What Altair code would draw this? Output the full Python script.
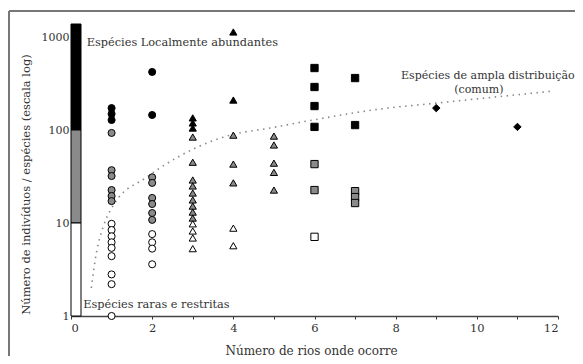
import altair as alt
import pandas as pd

# ---- data ----
rios_1 = [172, 149, 128, 93, 37, 32, 22.6, 19.5, 17.2, 9.8, 8.4, 7.2, 6.2, 5.4, 4.4, 2.8, 2.2, 1.0]
rios_2 = [421, 145, 31, 27, 18.6, 16, 12.8, 10.8, 7.6, 6.2, 5.3, 3.6]
rios_3 = [135, 119, 105, 84, 45, 29, 25, 21, 17.7, 15.2, 13.1, 11.3, 9.8, 8.2, 6.9, 5.3]
rios_4 = [1132, 210, 88, 43, 27, 8.8, 5.7]
rios_5 = [86, 69, 44, 35, 22.6]
rios_6 = [464, 290, 181, 108, 43, 22.6, 7.1]
rios_7 = [362, 113, 22, 19, 16.4]
rios_9 = [172]
rios_11 = [108]

curva_x = [0.5, 0.63, 0.79, 1.08, 1.86, 2.19, 3.1, 3.92, 4.9, 5.96, 7.61, 8.97, 11.87]
curva_y = [2.0, 4.9, 9.0, 16.4, 31, 39, 65, 88, 105, 128, 168, 194, 262]

barra_ini = [100, 10, 1]
barra_fim = [1380, 100, 10]
barra_cat = ["abundante", "intermediaria", "rara"]

notas_esq = ["Espécies Localmente abundantes", "Espécies raras e restritas"]
notas_esq_x = [0.39, 0.3]
notas_esq_y = [860, 1.31]
notas_cen = ["Espécies de ampla distribuição", "(comum)"]
notas_cen_x = [10.27, 10.05]
notas_cen_y = [380, 268]

x_ticks = list(range(13))
y_ticks = [1, 10, 100, 1000]

# ---- build tables ----
cols = {1: rios_1, 2: rios_2, 3: rios_3, 4: rios_4, 5: rios_5,
        6: rios_6, 7: rios_7, 9: rios_9, 11: rios_11}
rows = []
for r, vals in cols.items():
    if r <= 2:
        g = "circulo"
    elif r <= 5:
        g = "triangulo"
    elif r <= 7:
        g = "quadrado"
    else:
        g = "estrela"
    for v in vals:
        c = "abundante" if v >= 100 else ("intermediaria" if v >= 10 else "rara")
        rows.append({"rios": r, "ind": v, "grupo": g, "cat": c})
pts = pd.DataFrame(rows)
curva = pd.DataFrame({"rios": curva_x, "ind": curva_y})
barra = pd.DataFrame({"y": barra_ini, "y2": barra_fim, "cat": barra_cat})
txt_l = pd.DataFrame({"t": notas_esq, "x": notas_esq_x, "y": notas_esq_y})
txt_c = pd.DataFrame({"t": notas_cen, "x": notas_cen_x, "y": notas_cen_y})

FONT = "DejaVu Serif"
xs = alt.Scale(domain=[0, 12], nice=False)
ys = alt.Scale(type="log", domain=[1, 1380], nice=False)
fill_scale = alt.Scale(domain=["abundante", "intermediaria", "rara"],
                       range=["#000000", "#8a8a8a", "#ffffff"])

one = pd.DataFrame({"a": [0]})
frame_top = alt.Chart(one).mark_rule(color="#777777", strokeWidth=2).encode(
    x=alt.value(-62), x2=alt.value(510), y=alt.value(-13))
frame_left = alt.Chart(one).mark_rule(color="#777777", strokeWidth=2).encode(
    x=alt.value(-62), y=alt.value(-13), y2=alt.value(340))

bar = alt.Chart(barra).mark_rect(stroke="#000000", strokeWidth=1).encode(
    x=alt.value(0), x2=alt.value(10),
    y=alt.Y("y:Q", scale=ys, axis=alt.Axis(
        values=y_ticks, format="d", ticks=False, domain=False, grid=False,
        labelFont=FONT, labelFontSize=11, labelColor="#333333", labelPadding=2,
        title="Número de indivíduos / espécies (escala log)",
        titleFont=FONT, titleFontSize=11.5, titleFontWeight="normal", titleColor="#333333",
        titleX=-45, titleY=160, titleAlign="center", titleBaseline="middle")),
    y2="y2:Q",
    fill=alt.Fill("cat:N", scale=fill_scale, legend=None),
)

line = alt.Chart(curva).mark_line(
    color="#888888", strokeDash=[1.5, 4.5], strokeWidth=1.6, interpolate="monotone"
).encode(
    x=alt.X("rios:Q", scale=xs, axis=alt.Axis(
        values=x_ticks, labelExpr="datum.value % 2 == 0 ? datum.label : ''",
        tickSize=3, tickColor="#333333", domainColor="#444444", domainWidth=1.6,
        grid=False, labelFont=FONT, labelFontSize=11.5, labelColor="#333333", labelPadding=3,
        title="Número de rios onde ocorre", titleFont=FONT, titleFontSize=12,
        titleFontWeight="normal", titleColor="#333333", titleX=240, titleY=38,
        titleBaseline="alphabetic")),
    y=alt.Y("ind:Q", scale=ys),
)

points = alt.Chart(pts).mark_point(filled=False, stroke="#000000", strokeWidth=1, opacity=1).encode(
    x=alt.X("rios:Q", scale=xs),
    y=alt.Y("ind:Q", scale=ys),
    shape=alt.Shape("grupo:N", scale=alt.Scale(
        domain=["circulo", "triangulo", "quadrado", "estrela"],
        range=["circle", "triangle-up", "square", "diamond"]), legend=None),
    fill=alt.Fill("cat:N", scale=fill_scale, legend=None),
    size=alt.Size("grupo:N", scale=alt.Scale(
        domain=["circulo", "triangulo", "quadrado", "estrela"],
        range=[50, 55, 55, 40]), legend=None),
)

texts_l = alt.Chart(txt_l).mark_text(font=FONT, fontSize=11.3, color="#333333",
                                     baseline="middle", align="left").encode(
    x=alt.X("x:Q", scale=xs), y=alt.Y("y:Q", scale=ys), text="t:N")
texts_c = alt.Chart(txt_c).mark_text(font=FONT, fontSize=11, color="#333333",
                                     baseline="middle", align="center").encode(
    x=alt.X("x:Q", scale=xs), y=alt.Y("y:Q", scale=ys), text="t:N")

chart = alt.layer(frame_top, frame_left, bar, line, points, texts_l, texts_c).properties(
    width=487, height=292,
    padding={"left": 63, "top": 16, "right": 17, "bottom": 40},
    autosize=alt.AutoSizeParams(type="none"),
    background="#ffffff",
).configure_view(stroke=None)

chart.save("out.html", embed_options={"renderer": "svg", "actions": False})
